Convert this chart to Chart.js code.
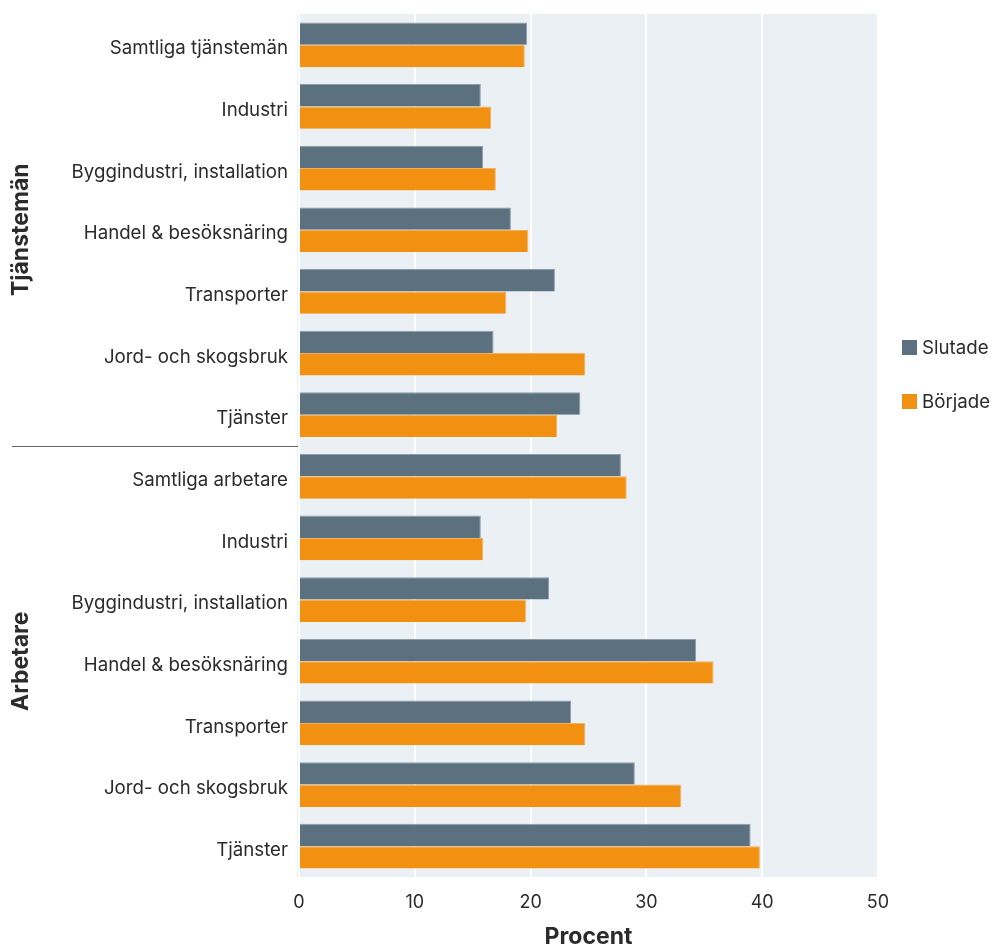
<!DOCTYPE html>
<html lang="sv">
<head>
<meta charset="utf-8">
<script src="https://cdn.jsdelivr.net/npm/chart.js@4/dist/chart.umd.min.js"></script>
<style>
  html, body { margin: 0; padding: 0; background: #fff; }
  #wrap { position: relative; width: 994px; height: 947px; }
</style>
</head>
<body>
<div id="wrap"><canvas id="chart" width="994" height="947"></canvas></div>
<script>
// Data
const categories = [
    'Samtliga tjänstemän', 'Industri', 'Byggindustri, installation', 'Handel & besöksnäring',
    'Transporter', 'Jord- och skogsbruk', 'Tjänster',
    'Samtliga arbetare', 'Industri', 'Byggindustri, installation', 'Handel & besöksnäring',
    'Transporter', 'Jord- och skogsbruk', 'Tjänster'
];
const slutade = [19.7, 15.7, 15.9, 18.3, 22.1, 16.8, 24.3, 27.8, 15.7, 21.6, 34.3, 23.5, 29.0, 39.0];
const borjade = [19.5, 16.6, 17.0, 19.8, 17.9, 24.7, 22.3, 28.3, 15.9, 19.6, 35.8, 24.7, 33.0, 39.8];
const groups = [
    { label: 'Tjänstemän', from: 0, to: 6 },
    { label: 'Arbetare', from: 7, to: 13 }
];
const xTicks = [0, 10, 20, 30, 40, 50];

const FONT = 'Inter, "Noto Sans", sans-serif';
const TEXT = '#2b2b2b';
const SLATE = '#5b717f';
const ORANGE = '#f29111';

// Plot background + group labels + legend
const decorPlugin = {
    id: 'decor',
    beforeDraw(chart) {
        const { ctx, chartArea: a } = chart;
        ctx.save();
        ctx.fillStyle = '#ebf0f4';
        ctx.fillRect(a.left - 2, a.top, a.right - a.left + 2, a.bottom - a.top);
        ctx.restore();
    },
    afterDraw(chart) {
        const { ctx, chartArea: a } = chart;
        const y = chart.scales.y;
        ctx.save();

        // separator between groups
        const sepY = Math.round((y.getPixelForValue(6) + y.getPixelForValue(7)) / 2);
        ctx.strokeStyle = '#666';
        ctx.lineWidth = 1;
        ctx.beginPath();
        ctx.moveTo(12, sepY + 0.5);
        ctx.lineTo(a.left - 1, sepY + 0.5);
        ctx.stroke();

        // rotated group labels
        ctx.fillStyle = TEXT;
        ctx.font = 'bold 23px ' + FONT;
        ctx.textAlign = 'center';
        ctx.textBaseline = 'middle';
        groups.forEach(g => {
            const cy = (y.getPixelForValue(g.from) + y.getPixelForValue(g.to)) / 2;
            ctx.save();
            ctx.translate(21, cy);
            ctx.rotate(-Math.PI / 2);
            ctx.fillText(g.label, 0, 0);
            ctx.restore();
        });

        // legend
        const items = chart.data.datasets;
        ctx.font = '18.7px ' + FONT;
        ctx.textAlign = 'left';
        items.forEach((ds, i) => {
            const ly = 347 + i * 54;
            ctx.fillStyle = ds.backgroundColor;
            ctx.fillRect(902, ly - 7, 15, 15);
            ctx.fillStyle = TEXT;
            ctx.fillText(ds.label, 922, ly + 1);
        });
        ctx.restore();
    }
};

new Chart(document.getElementById('chart'), {
    type: 'bar',
    data: {
        labels: categories,
        datasets: [
            {
                label: 'Slutade',
                data: slutade,
                backgroundColor: SLATE,
                borderColor: '#8d9ca7',
                borderWidth: { top: 1, right: 1, bottom: 0, left: 0 }
            },
            {
                label: 'Började',
                data: borjade,
                backgroundColor: ORANGE,
                borderColor: '#f5b05a',
                borderWidth: { top: 1, right: 1, bottom: 0, left: 0 }
            }
        ]
    },
    options: {
        indexAxis: 'y',
        responsive: false,
        animation: false,
        layout: { padding: { top: 14, right: 116, left: 0, bottom: 0 } },
        datasets: {
            bar: { categoryPercentage: 0.725, barPercentage: 1.0 }
        },
        plugins: {
            legend: { display: false },
            tooltip: { enabled: false }
        },
        scales: {
            x: {
                min: 0,
                max: 50,
                afterBuildTicks: scale => { scale.ticks = xTicks.map(v => ({ value: v })); },
                afterFit: scale => { scale.height = 70; scale.paddingLeft = 0; scale.paddingRight = 0; },
                grid: { color: '#ffffff', lineWidth: 2, drawTicks: false },
                border: { display: false },
                ticks: { color: TEXT, font: { family: FONT, size: 18 }, padding: 15 },
                title: {
                    display: true,
                    text: 'Procent',
                    color: TEXT,
                    font: { family: FONT, size: 23, weight: 'bold', lineHeight: 0.9 },
                    padding: { top: 16, bottom: 0 }
                }
            },
            y: {
                afterFit: scale => { scale.width = 299; scale.paddingTop = 0; scale.paddingBottom = 0; },
                grid: { display: false, drawTicks: false },
                border: { display: false },
                ticks: { color: TEXT, font: { family: FONT, size: 18.7 }, padding: 11, labelOffset: 4 }
            }
        }
    },
    plugins: [decorPlugin]
});
</script>
</body>
</html>
